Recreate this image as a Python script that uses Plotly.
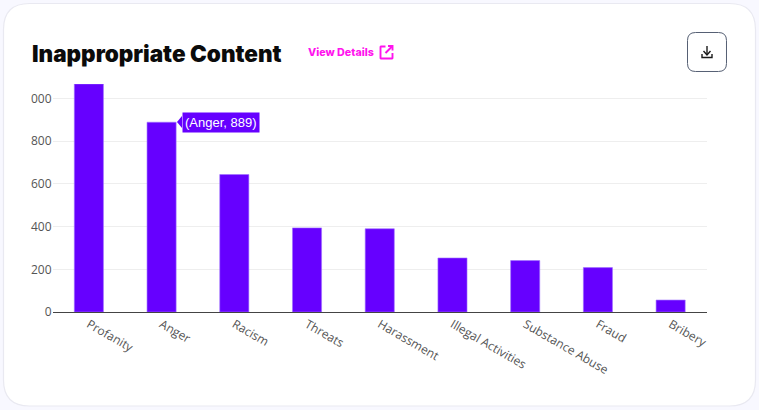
import plotly.graph_objects as go

W, H = 759, 410
categories = ["Profanity", "Anger", "Racism", "Threats", "Harassment",
              "Illegal Activities", "Substance Abuse", "Fraud", "Bribery"]
values = [1068, 889, 644, 394, 390, 253, 241, 208, 56]
tick_values = [0, 200, 400, 600, 800, 1000]
tick_labels = ["0", "200", "400", "600", "800", "000"]

PURPLE = "#6600ff"
MAGENTA = "#ff14ee"


def fx(x):
    return x / W


def fy(y):
    return 1 - y / H


def path(cmds):
    out = []
    for c in cmds:
        if c == "Z":
            out.append("Z")
        else:
            op, *pts = c
            out.append(op + " ".join(f"{fx(pts[i]):.5f},{fy(pts[i+1]):.5f}" for i in range(0, len(pts), 2)))
    return " ".join(out)


def rrect(x0, y0, x1, y1, r):
    return path([
        ("M", x0 + r, y0), ("L", x1 - r, y0), ("Q", x1, y0, x1, y0 + r),
        ("L", x1, y1 - r), ("Q", x1, y1, x1 - r, y1), ("L", x0 + r, y1),
        ("Q", x0, y1, x0, y1 - r), ("L", x0, y0 + r), ("Q", x0, y0, x0 + r, y0), "Z",
    ])


def shape(d, line=None, width=1, fill="rgba(0,0,0,0)", layer="above"):
    return dict(type="path", xref="paper", yref="paper", path=d, layer=layer,
                fillcolor=fill, line=dict(color=line or "rgba(0,0,0,0)", width=width))


shapes = [
    shape(rrect(3.5, 3.5, 755.5, 406, 26), line="#e9e9f1", width=1.2, fill="#ffffff", layer="below"),
    # download button
    shape(rrect(687.5, 32.5, 726.5, 71.5, 8), line="#566074", width=1),
    shape(path([("M", 707, 46), ("L", 707, 54)]), line="#1a1a1a", width=1.4),
    shape(path([("M", 703.5, 51), ("L", 707, 55), ("L", 710.5, 51)]), line="#1a1a1a", width=1.4),
    shape(path([("M", 702, 54), ("L", 702, 57.5), ("L", 712, 57.5), ("L", 712, 54)]), line="#1a1a1a", width=1.4),
    # external link icon
    shape(path([("M", 385.5, 46.5), ("L", 381, 46.5), ("L", 380.5, 47), ("L", 380.5, 58), ("L", 381, 58.5),
                ("L", 392, 58.5), ("L", 392.5, 58), ("L", 392.5, 53)]), line=MAGENTA, width=1.9),
    shape(path([("M", 388, 46), ("L", 392.5, 46), ("L", 392.5, 50.5)]), line=MAGENTA, width=1.9),
    shape(path([("M", 392, 46.5), ("L", 385.5, 53)]), line=MAGENTA, width=1.9),
    # tooltip pointer
    shape(path([("M", 182, 116), ("L", 177, 122), ("L", 182, 128), "Z"]), fill=PURPLE),
]

fig = go.Figure(go.Bar(x=categories, y=values, marker=dict(color=PURPLE, line=dict(color="#a070ff", width=0.6)),
                       hoverinfo="skip"))
fig.update_layout(
    width=W, height=H, margin=dict(l=0, r=0, t=0, b=0, pad=0),
    paper_bgcolor="#f8f8ff", plot_bgcolor="rgba(0,0,0,0)", bargap=0.6, showlegend=False,
    shapes=shapes,
    annotations=[
        dict(xref="paper", yref="paper", x=fx(30), y=fy(53), xanchor="left", yanchor="middle", showarrow=False,
             text="Inappropriate Content", font=dict(family="Inter", size=22.5, color="#0b0b0b", weight=900)),
        dict(xref="paper", yref="paper", x=fx(306), y=fy(52), xanchor="left", yanchor="middle", showarrow=False,
             text="View Details", font=dict(family="Inter", size=10.7, color=MAGENTA, weight=800)),
        dict(xref="x", yref="y", x="Anger", y=889, xanchor="left", yanchor="middle", xshift=20, showarrow=False,
             text="(Anger, 889)", bgcolor=PURPLE, borderpad=2,
             font=dict(family="Liberation Sans", size=13, color="#ffffff")),
    ],
)
fig.update_xaxes(domain=[fx(52.5), fx(707)], showgrid=False, showline=True, linecolor="#444444", linewidth=1,
                 ticks="", tickangle=30, automargin=False,
                 tickfont=dict(family="Open Sans", size=12, color="#555555"))
fig.update_yaxes(domain=[fy(312), fy(84)], range=[0, 1068], tickmode="array", tickvals=tick_values, ticktext=tick_labels,
                 showgrid=True, gridcolor="#eeeeee", gridwidth=1, zeroline=False, showline=False, ticks="",
                 automargin=False, tickfont=dict(family="Open Sans", size=12, color="#555555"))

fig.write_html("out.html", config=dict(displayModeBar=False),
               post_script="document.body.style.margin='0';document.body.style.overflow='hidden';")
